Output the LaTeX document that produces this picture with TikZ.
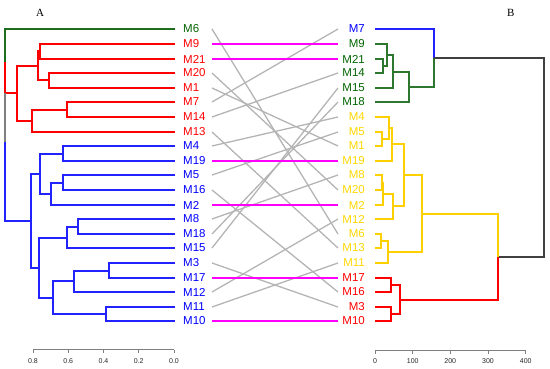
\documentclass[tikz,border=0pt]{standalone}
\usepackage{fontspec}
\setmainfont{Liberation Sans}
\newfontfamily\serifA{Liberation Serif}
\definecolor{lgreen}{HTML}{006400}
\definecolor{dgreenline}{HTML}{1E6E1E}
\definecolor{rgreenline}{HTML}{2E772E}
\definecolor{lblue}{HTML}{0000FF}
\definecolor{blueline}{HTML}{2222FF}
\definecolor{lred}{HTML}{FF0000}
\definecolor{lyellow}{HTML}{FFD700}
\definecolor{yline}{HTML}{FFD000}
\definecolor{midgrey}{HTML}{B4B4B4}
\definecolor{rootgrey}{HTML}{404040}
\definecolor{axgrey}{HTML}{7F7F7F}
\definecolor{lmagenta}{HTML}{FF00FF}
\newcommand{\dlink}[5]{\draw (#2,#3) -| (#1,#5) -- (#4,#5);}
\begin{document}
\begin{tikzpicture}[x=1pt,y=-1pt,
  lab/.style={inner sep=0pt, font=\fontsize{11.5}{12}\selectfont},
  ticklab/.style={inner sep=0pt, font=\fontsize{7}{8}\selectfont, text=black!85},
  panel/.style={inner sep=0pt, font=\serifA\fontsize{11}{12}\selectfont},
  dend/.style={line width=1.35pt},
  conn/.style={draw=midgrey, line width=1.3pt},
  same/.style={draw=lmagenta, line width=1.5pt},
  axisline/.style={draw=axgrey, line width=1pt}]
\useasboundingbox (0,0) rectangle (550,369);

% panel letters
\node[panel] (pa) at (40,13) {A};
\node[panel] (pb) at (510.7,13) {B};

% left labels
\foreach \n/\c/\y in {M6/lgreen/29,M9/lred/44,M21/lred/59,M20/lred/73,M1/lred/88,M7/lred/102,M14/lred/117,M13/lred/132,M4/lblue/146,M19/lblue/161,M5/lblue/175,M16/lblue/190,M2/lblue/205,M8/lblue/219,M18/lblue/234,M15/lblue/248,M3/lblue/263,M17/lblue/278,M12/lblue/292,M11/lblue/307,M10/lblue/321}{
  \node[lab, text=\c, anchor=west] (l\n) at (183,\y) {\n};
  \coordinate (la\n) at (212,\y);
}
% right labels
\foreach \n/\c/\y in {M7/lblue/29,M9/lgreen/44,M21/lgreen/59,M14/lgreen/73,M15/lgreen/88,M18/lgreen/102,M4/lyellow/117,M5/lyellow/132,M1/lyellow/146,M19/lyellow/161,M8/lyellow/175,M20/lyellow/190,M2/lyellow/205,M12/lyellow/219,M6/lyellow/234,M13/lyellow/248,M11/lyellow/263,M17/lred/278,M16/lred/292,M3/lred/307,M10/lred/321}{
  \node[lab, text=\c, anchor=east] (r\n) at (365,\y) {\n};
  \coordinate (ra\n) at (338,\y);
}

% connectors
\foreach \n in {M6,M20,M1,M7,M14,M13,M4,M5,M16,M8,M18,M15,M3,M12,M11}{
  \draw[conn] (la\n) -- (ra\n);
}
\foreach \n in {M9,M21,M19,M2,M17,M10}{
  \draw[same] (la\n) -- (ra\n);
}

% left dendrogram: red
\begin{scope}[dend, draw=lred]
\dlink{40}{175}{44}{175}{59}
\dlink{49}{175}{73}{175}{88}
\dlink{38}{40}{51}{49}{80}
\dlink{67}{175}{102}{175}{117}
\dlink{32}{67}{110}{175}{132}
\dlink{17}{38}{66}{32}{121}
\draw (17,93) -- (5,93) -- (5,62);
\end{scope}
% left dendrogram: blue
\begin{scope}[dend, draw=blueline]
\dlink{63}{175}{146}{175}{161}
\dlink{63}{175}{175}{175}{190}
\dlink{51}{63}{183}{175}{205}
\dlink{40}{63}{154}{51}{194}
\dlink{78}{175}{219}{175}{234}
\dlink{67}{78}{227}{175}{248}
\dlink{109}{175}{263}{175}{278}
\dlink{74}{109}{271}{175}{292}
\dlink{106}{175}{307}{175}{321}
\dlink{53}{74}{281}{106}{314}
\dlink{39}{67}{238}{53}{298}
\dlink{31}{40}{174}{39}{268}
\draw (31,221) -- (5,221) -- (5,142);
\end{scope}
\draw[dend, draw=gray] (5,93) -- (5,142);
\draw[dend, draw=dgreenline] (175,29) -- (5,29) -- (5,62);

% right dendrogram: green
\begin{scope}[dend, draw=rgreenline]
\dlink{383}{375}{59}{375}{73}
\dlink{387}{375}{44}{383}{66}
\dlink{393}{387}{55}{375}{88}
\dlink{409}{393}{72}{375}{102}
\draw (409,87) -- (434,87) -- (434,58);
\end{scope}
\draw[dend, draw=blueline] (375,29) -- (434,29) -- (434,58);
\draw[dend, draw=rootgrey] (434,58) -- (544,58) -- (544,257) -- (498,257);
% yellow
\begin{scope}[dend, draw=yline]
\dlink{382}{375}{132}{375}{146}
\dlink{389}{375}{117}{382}{139}
\dlink{392}{389}{128}{375}{161}
\dlink{382}{375}{175}{375}{190}
\dlink{383}{382}{183}{375}{205}
\dlink{393}{383}{194}{375}{219}
\dlink{404}{392}{144}{393}{206}
\dlink{381}{375}{234}{375}{248}
\dlink{388}{381}{241}{375}{263}
\dlink{422}{404}{175}{388}{252}
\draw (422,214) -- (498,214) -- (498,257);
\end{scope}
% red
\begin{scope}[dend, draw=lred]
\dlink{391}{375}{278}{375}{292}
\dlink{391}{375}{307}{375}{321}
\dlink{400}{391}{285}{391}{314}
\draw (400,300) -- (498,300) -- (498,257);
\end{scope}

% left axis
\draw[axisline] (33,349.5) -- (174,349.5);
\foreach \x/\t [count=\k] in {33/0.8,68.25/0.6,103.5/0.4,138.75/0.2,174/0.0}{
  \draw[axisline] (\x,349.5) -- (\x,352.5);
  \node[ticklab] (lt\k) at (\x,361) {\t};
}
% right axis
\draw[axisline] (375,350.5) -- (525.7,350.5);
\foreach \x/\t [count=\k] in {375/0,412.7/100,450.3/200,488/300,525.7/400}{
  \draw[axisline] (\x,350.5) -- (\x,353.5);
  \node[ticklab] (rt\k) at (\x,361) {\t};
}
\end{tikzpicture}
\end{document}
